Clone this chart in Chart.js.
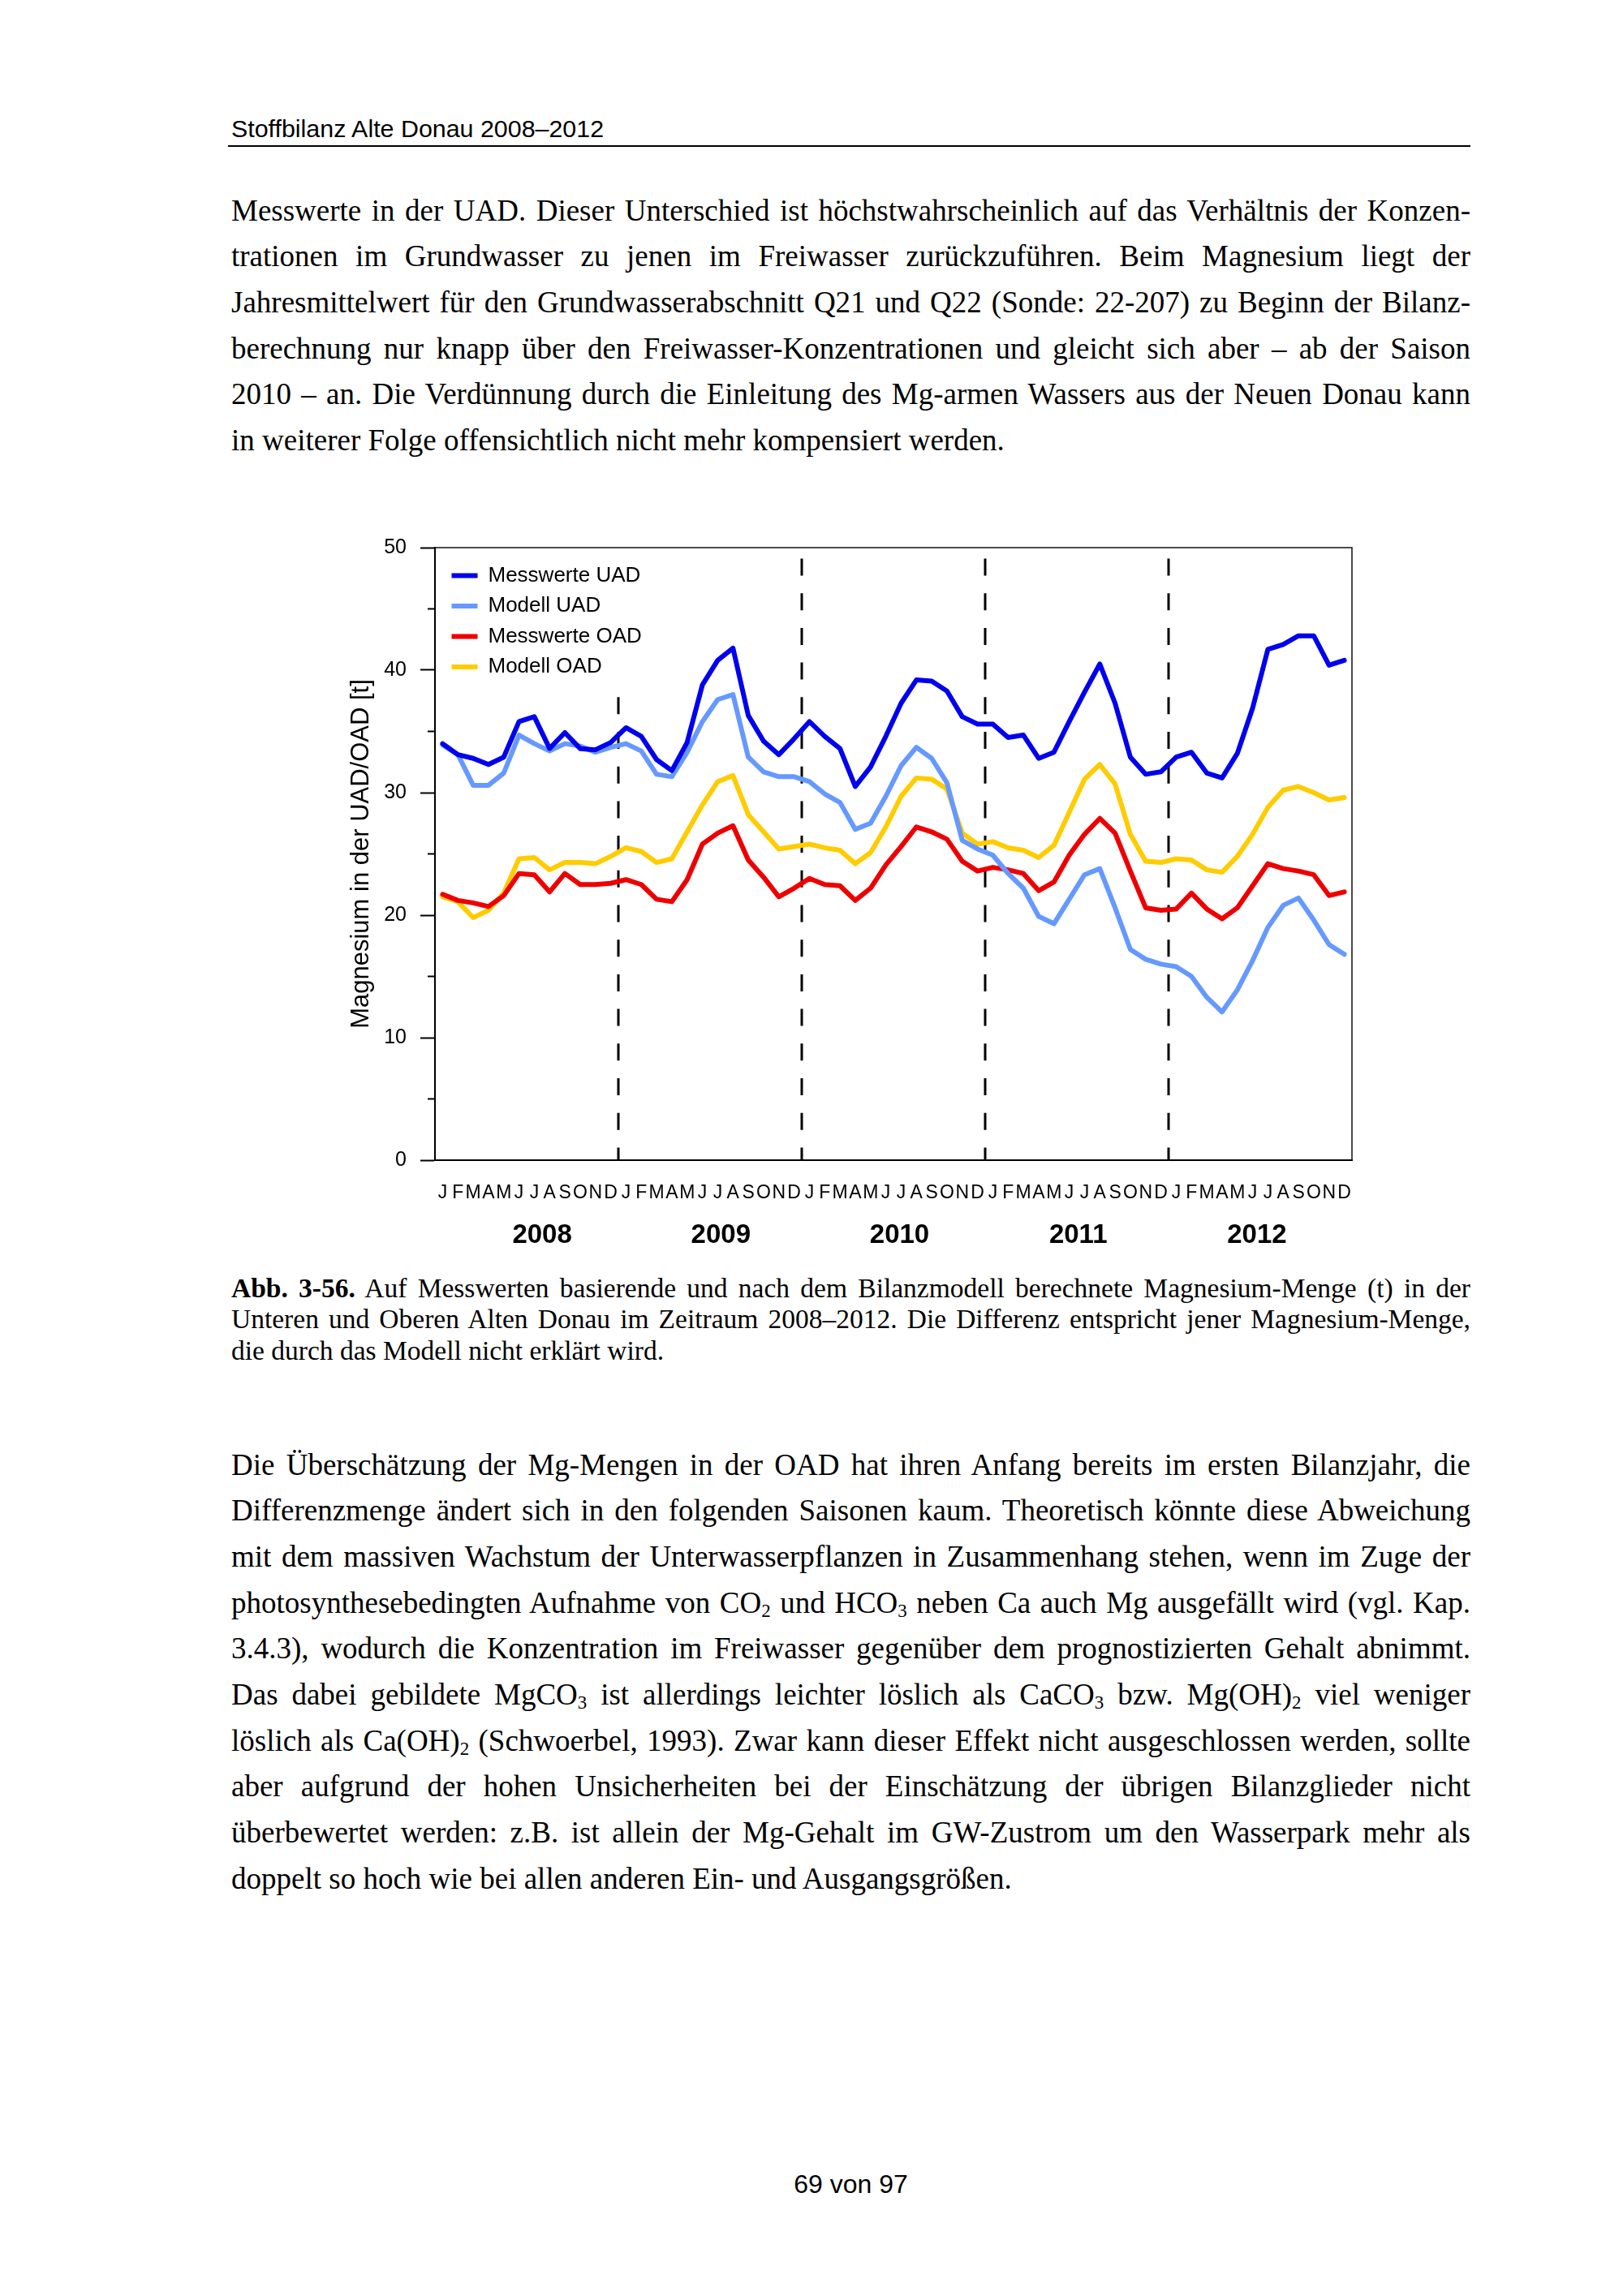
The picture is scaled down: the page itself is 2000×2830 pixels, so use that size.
<!DOCTYPE html>
<html><head><meta charset="utf-8">
<script src="https://cdn.jsdelivr.net/npm/chart.js@4.4.1/dist/chart.umd.min.js"></script>
<style>
html,body{margin:0;padding:0;background:#fff;}
body{width:2000px;height:2830px;position:relative;overflow:hidden;color:#000;}
.sans{font-family:'Liberation Sans',Arial,sans-serif;}
.serif{font-family:'Liberation Serif','Times New Roman',serif;}
.hdr{position:absolute;left:285px;top:142.6px;font-size:30.4px;line-height:30px;white-space:nowrap;}
.rule{position:absolute;left:281px;top:178.5px;width:1531px;height:2.5px;background:#000;}
.para{position:absolute;left:285px;width:1527px;font-size:37px;}
.para div{height:56.7px;line-height:56.7px;overflow:hidden;text-align:justify;text-align-last:justify;}
.cap{position:absolute;left:285px;width:1527px;font-size:33.5px;}
.cap div{height:38.5px;line-height:38.5px;overflow:hidden;text-align:justify;text-align-last:justify;}
.para div.last,.cap div.last{text-align:left;text-align-last:left;}
sub{font-size:0.62em;vertical-align:-0.22em;line-height:0;}
.pg{position:absolute;left:285px;width:1527px;top:2676px;text-align:center;font-size:32px;line-height:32px;}
#c{position:absolute;left:400px;top:640px;}
</style>
</head>
<body>
<div class="hdr sans">Stoffbilanz Alte Donau 2008–2012</div>
<div class="rule"></div>

<div class="para serif" style="top:231.5px;">
<div>Messwerte in der UAD. Dieser Unterschied ist höchstwahrscheinlich auf das Verhältnis der Konzen-</div>
<div>trationen im Grundwasser zu jenen im Freiwasser zurückzuführen. Beim Magnesium liegt der</div>
<div>Jahresmittelwert für den Grundwasserabschnitt Q21 und Q22 (Sonde: 22-207) zu Beginn der Bilanz-</div>
<div>berechnung nur knapp über den Freiwasser-Konzentrationen und gleicht sich aber – ab der Saison</div>
<div>2010 – an. Die Verdünnung durch die Einleitung des Mg-armen Wassers aus der Neuen Donau kann</div>
<div class="last">in weiterer Folge offensichtlich nicht mehr kompensiert werden.</div>
</div>

<canvas id="c" width="1300" height="920"></canvas>

<div class="cap serif" style="top:1568.5px;">
<div><b>Abb. 3-56.</b> Auf Messwerten basierende und nach dem Bilanzmodell berechnete Magnesium-Menge (t) in der</div>
<div>Unteren und Oberen Alten Donau im Zeitraum 2008–2012. Die Differenz entspricht jener Magnesium-Menge,</div>
<div class="last">die durch das Modell nicht erklärt wird.</div>
</div>

<div class="para serif" style="top:1777.5px;">
<div>Die Überschätzung der Mg-Mengen in der OAD hat ihren Anfang bereits im ersten Bilanzjahr, die</div>
<div>Differenzmenge ändert sich in den folgenden Saisonen kaum. Theoretisch könnte diese Abweichung</div>
<div>mit dem massiven Wachstum der Unterwasserpflanzen in Zusammenhang stehen, wenn im Zuge der</div>
<div>photosynthesebedingten Aufnahme von CO<sub>2</sub> und HCO<sub>3</sub> neben Ca auch Mg ausgefällt wird (vgl. Kap.</div>
<div>3.4.3), wodurch die Konzentration im Freiwasser gegenüber dem prognostizierten Gehalt abnimmt.</div>
<div>Das dabei gebildete MgCO<sub>3</sub> ist allerdings leichter löslich als CaCO<sub>3</sub> bzw. Mg(OH)<sub>2</sub> viel weniger</div>
<div>löslich als Ca(OH)<sub>2</sub> (Schwoerbel, 1993). Zwar kann dieser Effekt nicht ausgeschlossen werden, sollte</div>
<div>aber aufgrund der hohen Unsicherheiten bei der Einschätzung der übrigen Bilanzglieder nicht</div>
<div>überbewertet werden: z.B. ist allein der Mg-Gehalt im GW-Zustrom um den Wasserpark mehr als</div>
<div class="last">doppelt so hoch wie bei allen anderen Ein- und Ausgangsgrößen.</div>
</div>

<div class="pg sans">69 von 97</div>

<script>
const monthLetters = ['J','F','M','A','M','J','J','A','S','O','N','D'];
const yearLabels = ['2008','2009','2010','2011','2012'];
const yTickLabels = [0, 10, 20, 30, 40, 50];
const seriesNames = ['Messwerte UAD', 'Modell UAD', 'Messwerte OAD', 'Modell OAD'];

const messwerteUAD = [34.0,33.1,32.8,32.3,32.9,35.8,36.2,33.6,34.9,33.6,33.5,34.1,
  35.3,34.6,32.7,31.8,34.1,38.8,40.8,41.8,36.3,34.2,33.1,34.4,
  35.8,34.6,33.6,30.5,32.1,34.6,37.3,39.2,39.1,38.3,36.2,35.6,
  35.6,34.5,34.7,32.8,33.3,35.8,38.2,40.5,37.3,32.9,31.5,31.7,
  32.9,33.3,31.6,31.2,33.2,36.9,41.7,42.1,42.8,42.8,40.4,40.8];
const modellUAD = [33.9,33.1,30.6,30.6,31.6,34.7,34.0,33.4,34.0,33.8,33.3,33.7,
  34.0,33.4,31.5,31.3,33.3,35.8,37.6,38.0,32.9,31.7,31.3,31.3,
  30.9,29.9,29.2,27.0,27.5,29.7,32.2,33.7,32.8,30.8,26.1,25.4,
  24.9,23.4,22.2,19.9,19.3,21.3,23.3,23.8,20.6,17.2,16.4,16.0,
  15.8,15.0,13.3,12.1,13.9,16.3,19.0,20.8,21.4,19.6,17.6,16.8];
const messwerteOAD = [21.7,21.2,21.0,20.7,21.6,23.4,23.3,21.9,23.4,22.5,22.5,22.6,
  22.9,22.5,21.3,21.1,22.9,25.8,26.7,27.3,24.5,23.1,21.5,22.2,
  23.0,22.5,22.4,21.2,22.2,24.1,25.6,27.2,26.8,26.2,24.4,23.6,
  23.9,23.7,23.4,22.0,22.7,24.9,26.6,27.9,26.7,23.6,20.6,20.4,
  20.5,21.8,20.5,19.7,20.6,22.4,24.2,23.8,23.6,23.3,21.6,21.9];
const modellOAD = [21.5,21.1,19.8,20.4,21.8,24.6,24.7,23.7,24.3,24.3,24.2,24.8,
  25.5,25.2,24.3,24.6,26.8,29.0,30.9,31.4,28.2,26.8,25.4,25.6,
  25.8,25.5,25.3,24.2,25.1,27.2,29.7,31.2,31.1,30.3,26.7,25.8,
  26.0,25.5,25.3,24.7,25.7,28.4,31.1,32.3,30.7,26.6,24.4,24.3,
  24.6,24.5,23.7,23.5,24.8,26.6,28.8,30.2,30.5,30.0,29.4,29.6];

const seriesColors = ['#0000ee', '#6699ff', '#ee0000', '#ffcc00'];
const seriesData = [messwerteUAD, modellUAD, messwerteOAD, modellOAD];

const categories = yearLabels.flatMap(y => monthLetters.map((m, i) => y + '-' + String(i + 1).padStart(2, '0')));

const SANS = "'Liberation Sans', Arial, sans-serif";
Chart.defaults.color = '#000';
Chart.defaults.font.family = SANS;

const LEG_FONT = 26, LEG_PAD = 11.5;

const decor = {
  id: 'decor',
  afterLayout(chart) {
    const a = chart.chartArea;
    const L = chart.legend;
    if (L) { L.left = a.left + 9; L.top = a.top + 10; L.bottom = a.bottom; }
    const s = chart.scales.x2;
    if (s) {
      s.left = a.left + 22; s.right = a.right - 7; s.width = s.right - s.left;
      s.configure();
    }
  },
  beforeDraw(chart) {
    const {ctx, chartArea: a, scales: {x}} = chart;
    ctx.save();
    ctx.strokeStyle = '#000';
    ctx.lineWidth = 3;
    ctx.setLineDash([21, 21.7]);
    for (let k = 1; k < yearLabels.length; k++) {
      const px = x.getPixelForValue(k * monthLetters.length - 0.5);
      ctx.beginPath();
      ctx.moveTo(px, a.top + 13.5);
      ctx.lineTo(px, a.bottom);
      ctx.stroke();
    }
    ctx.restore();
    const L = chart.legend;
    if (L) {
      ctx.save();
      ctx.fillStyle = '#fff';
      const h = LEG_PAD + seriesNames.length * (LEG_FONT + LEG_PAD);
      ctx.fillRect(L.left, L.top, L.width + 10, h);
      ctx.restore();
    }
  },
  afterDraw(chart) {
    const {ctx, chartArea: a, scales: {y}} = chart;
    ctx.save();
    ctx.strokeStyle = '#111';
    ctx.lineWidth = 1.5;
    ctx.beginPath();
    ctx.moveTo(a.left, a.top);
    ctx.lineTo(a.right, a.top);
    ctx.lineTo(a.right, a.bottom);
    ctx.stroke();
    ctx.strokeStyle = '#000';
    ctx.lineWidth = 2;
    for (let v = 5; v < 50; v += 10) {
      const py = y.getPixelForValue(v);
      ctx.beginPath();
      ctx.moveTo(y.right - 9, py);
      ctx.lineTo(y.right, py);
      ctx.stroke();
    }
    ctx.restore();
  }
};

new Chart(document.getElementById('c'), {
  type: 'line',
  data: {
    labels: categories,
    datasets: seriesNames.map((name, i) => ({
      label: name,
      data: seriesData[i],
      borderColor: seriesColors[i],
      backgroundColor: seriesColors[i],
      borderWidth: 6,
      pointRadius: 0,
      tension: 0,
      fill: false,
      borderJoinStyle: 'round',
      borderCapStyle: 'round',
      xAxisID: 'x',
      yAxisID: 'y'
    }))
  },
  options: {
    responsive: false,
    animation: false,
    devicePixelRatio: 1,
    layout: {padding: {top: 35, right: 34, bottom: 0, left: 0}},
    plugins: {
      legend: {
        position: 'chartArea',
        align: 'start',
        fullSize: false,
        labels: {
          usePointStyle: true,
          pointStyle: 'line',
          pointStyleWidth: 32,
          padding: LEG_PAD,
          color: '#000',
          font: {family: SANS, size: LEG_FONT}
        }
      },
      tooltip: {enabled: false}
    },
    scales: {
      x: {
        type: 'category',
        offset: true,
        weight: 0,
        grid: {display: false},
        border: {display: true, color: '#000', width: 2},
        ticks: {
          autoSkip: false, maxRotation: 0, minRotation: 0, padding: 19,
          color: '#000', font: {family: SANS, size: 23},
          callback: (v, i) => monthLetters[i % monthLetters.length]
        },
        afterFit(s) { s.height = 55; }
      },
      x2: {
        type: 'category',
        labels: yearLabels,
        position: 'bottom',
        offset: true,
        weight: 10,
        grid: {display: false},
        border: {display: false},
        ticks: {autoSkip: false, maxRotation: 0, minRotation: 0, padding: 10,
          color: '#000', font: {family: SANS, size: 33, weight: 'bold'}},
        afterFit(s) { s.height = 75; }
      },
      y: {
        min: 0, max: 50,
        grid: {drawOnChartArea: false, drawTicks: true, tickLength: 18, tickWidth: 2,
          tickColor: (c) => (c.tick && yTickLabels.includes(c.tick.value)) ? '#000' : 'rgba(0,0,0,0)'},
        border: {color: '#000', width: 2},
        ticks: {stepSize: 5, padding: 17, color: '#000', font: {family: SANS, size: 25},
          callback: (v) => yTickLabels.includes(v) ? String(v) : ''},
        title: {display: true, text: 'Magnesium in der UAD/OAD [t]', color: '#000',
          font: {family: SANS, size: 31}, padding: {top: 27, bottom: 0}},
        afterFit(s) { s.width = 136; }
      }
    }
  },
  plugins: [decor]
});
</script>
</body></html>
